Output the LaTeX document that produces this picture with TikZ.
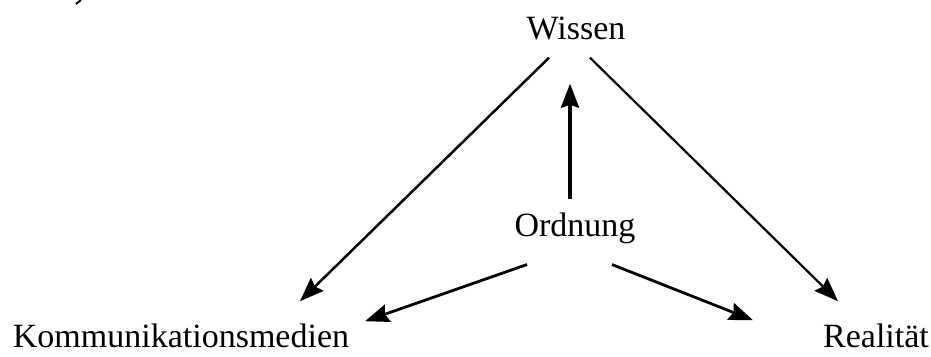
\documentclass[tikz,border=0pt]{standalone}
\usepackage{fontspec}
\setmainfont{Liberation Serif}
\usetikzlibrary{arrows.meta}

\begin{document}
\begin{tikzpicture}[
  x=1pt, y=-1pt,
  term/.style={inner sep=0pt, anchor=base, font=\fontsize{34}{40}\selectfont},
  arrow/.style={-{Stealth[length=24pt, width=18pt, inset=3pt]}, line width=2.2pt},
  thickarrow/.style={arrow, line width=2.8pt},
]
  \useasboundingbox (0,0) rectangle (931,356);

  % left-over stroke at the top edge
  \draw[line width=1.8pt] (76,4) -- (81,0);

  % terms
  \node[term] (wissen) at (576, 39) {Wissen};
  \node[term] (ordnung) at (575, 236) {Ordnung};
  \node[term] (komm) at (181, 347) {Kommunikationsmedien};
  \node[term] (real) at (876, 347) {Realität};

  % Arrows
  \draw[arrow, line width=2.5pt] ([shift={(-27,18)}]wissen.south) -- ([shift={(119,-22)}]komm.north);
  \draw[arrow] ([shift={(14,18)}]wissen.south) -- ([shift={(-38,-22)}]real.north);
  \draw[thickarrow, line width=3.6pt] ([shift={(-5,-13)}]ordnung.north) -- ([shift={(-6,44)}]wissen.south);
  \draw[thickarrow] ([shift={(-48,21)}]ordnung.south) -- ([shift={(184,-2)}]komm.north);
  \draw[thickarrow] ([shift={(37,21)}]ordnung.south) -- ([shift={(-123,-3)}]real.north);

\end{tikzpicture}
\end{document}
